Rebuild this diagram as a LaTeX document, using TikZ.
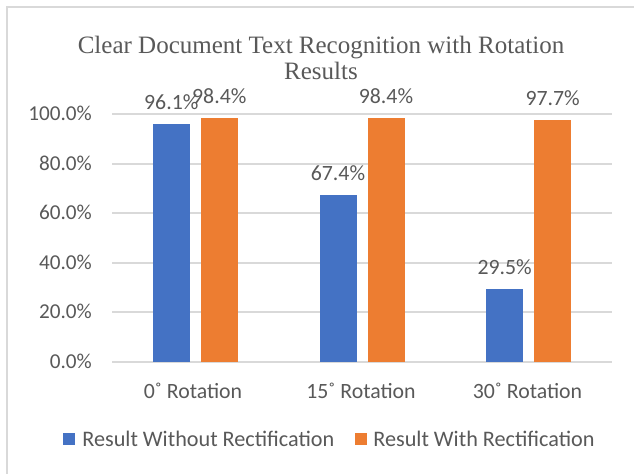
\documentclass[tikz,border=0pt]{standalone}
\usepackage{fontspec}
\setmainfont{Carlito}
\newfontfamily\ttlfont{Liberation Serif}
\usepackage{tikz}
\usetikzlibrary{positioning}
\definecolor{nofix}{HTML}{4472C4}
\definecolor{withfix}{HTML}{ED7D31}
\definecolor{gridc}{HTML}{D9D9D9}
\definecolor{ink}{HTML}{595959}
\tikzset{
  frm/.style={draw=gridc, line width=2.5pt},
  gridline/.style={draw=gridc, line width=2pt},
  ttl/.style={font=\ttlfont\fontsize{25}{28}\selectfont, text=ink, inner sep=0pt},
  ticklbl/.style={font=\fontsize{21.2}{24}\selectfont, text=ink, anchor=base east, inner sep=0pt},
  val/.style={font=\fontsize{21.8}{24}\selectfont, text=ink, inner sep=0pt},
  catlbl/.style={font=\fontsize{21.8}{24}\selectfont, text=ink, anchor=base, inner sep=0pt},
  keybox/.style={minimum size=12pt, inner sep=0pt},
  keytxt/.style={font=\fontsize{22.2}{25}\selectfont, text=ink, inner sep=0pt},
}
% one group of two bars: #1 centre, #2 name, #3 without, #4 with
\newcommand{\pairbars}[4]{%
  \fill[nofix] (#1-42.5,0) rectangle (#1-5.5,#3);
  \fill[withfix] (#1+5.5,0) rectangle (#1+42.5,#4);
  \coordinate (a#2) at (#1-24,#3);
  \coordinate (b#2) at (#1+24,#4);
  \node[val, above=14pt of a#2] (va#2) {#3\%};
  \node[val, above=14pt of b#2] (vb#2) {#4\%};}
\begin{document}
\begin{tikzpicture}[x=1pt,y=-1pt]
  \useasboundingbox (0,0) rectangle (634,474);
  \fill[white] (0,0) rectangle (634,474);
  \draw[frm] (634,7) -- (7,7) -- (7,474);
  \node[ttl, anchor=base] (title) at (321,53) {Clear Document Text Recognition with Rotation};
  \node[ttl, anchor=base] (title2) at (321,79) {Results};
  \begin{scope}[shift={(0,362)}, yscale=-2.48]
    \foreach \v in {0,20,...,100} {
      \draw[gridline] (112,\v) -- (612,\v);
      \node[ticklbl, yshift=-6.5pt] (t\v) at (92,\v) {\v.0\%};
    }
    \pairbars{195.3}{0}{96.1}{98.4}
    \pairbars{362}{15}{67.4}{98.4}
    \pairbars{528.7}{30}{29.5}{97.7}
  \end{scope}
  \node[catlbl] (c0) at (193,398) {0˚ Rotation};
  \node[catlbl] (c15) at (361,398) {15˚ Rotation};
  \node[catlbl] (c30) at (527.5,398) {30˚ Rotation};
  % legend
  \node[keybox, fill=nofix] (k1) at (69,439) {};
  \node[keytxt, right=7pt of k1] (k1t) {Result Without Rectification};
  \node[keybox, fill=withfix] (k2) at (361,439) {};
  \node[keytxt, right=6pt of k2] (k2t) {Result With Rectification};
\end{tikzpicture}
\end{document}
